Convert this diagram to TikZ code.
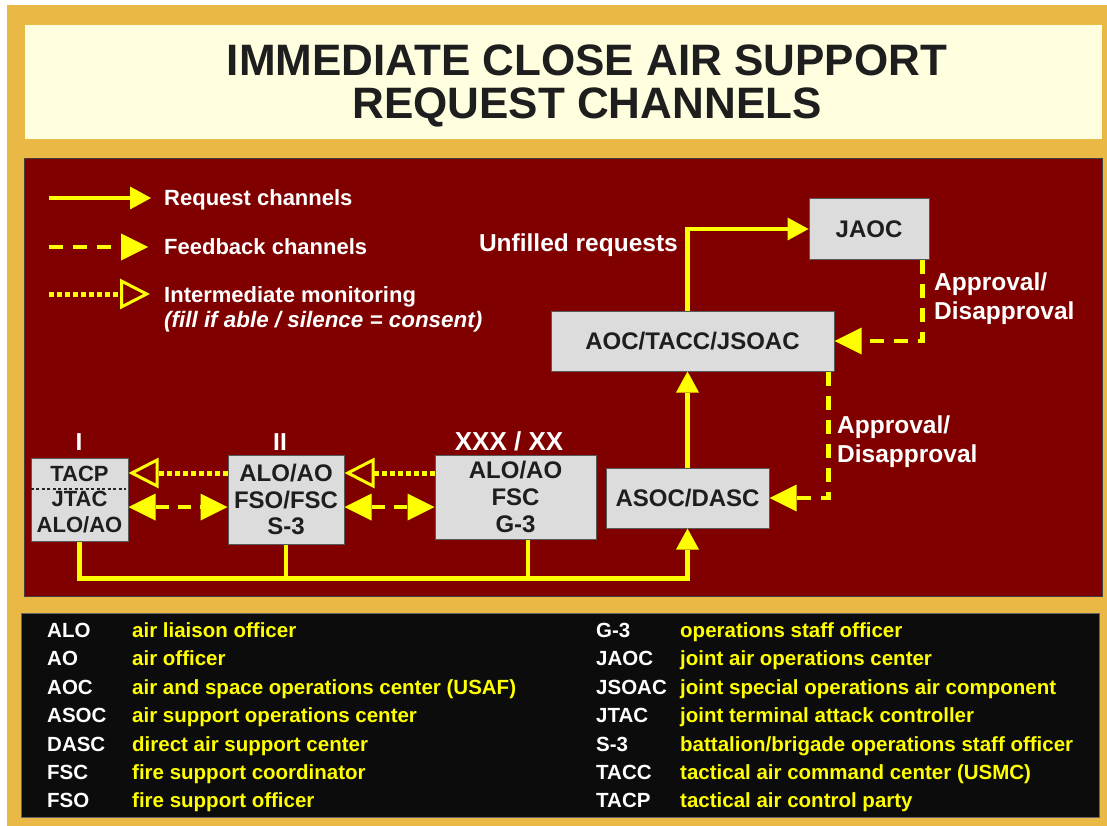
\documentclass[tikz,border=0pt]{standalone}
\usepackage{fontspec}
\setmainfont{Liberation Sans}
\usetikzlibrary{arrows.meta}
\definecolor{gold}{HTML}{EAB845}
\definecolor{cream}{HTML}{FFFFE0}
\definecolor{panelred}{HTML}{800000}
\definecolor{boxgray}{HTML}{DCDCDC}
\definecolor{ylw}{HTML}{FFFF00}
\definecolor{ink}{HTML}{1E1E1E}
\definecolor{legblack}{HTML}{0C0C0C}
\begin{document}
\begin{tikzpicture}[x=1pt,y=-1pt,
  orgbox/.style={draw=black!65,line width=1pt,fill=boxgray,text=ink,
    font=\fontsize{24}{26.6}\selectfont\bfseries,align=center,inner sep=0pt},
  req/.style={draw=ylw,line width=4.5pt,-{Triangle[length=21pt,width=23pt,line width=0pt]}},
  reqline/.style={draw=ylw,line width=4.5pt,shorten >=-2.25pt},
  fbarrow/.style={draw=ylw,line width=4.5pt,dash pattern=on 14pt off 10pt,
    -{Triangle[length=27pt,width=27pt,line width=0pt]}},
  fbboth/.style={draw=ylw,line width=4.5pt,dash pattern=on 13pt off 9pt,
    {Triangle[length=27pt,width=27pt,line width=0pt]}-{Triangle[length=27pt,width=27pt,line width=0pt]}},
  monarrow/.style={draw=ylw,line width=5pt,dash pattern=on 5pt off 3pt,
    -{Triangle[open,length=30pt,width=30pt,line width=3pt]}},
  titletext/.style={text=ink,font=\fontsize{44}{44}\selectfont\bfseries,inner sep=0pt},
  legtext/.style={text=white,font=\fontsize{22}{24}\selectfont\bfseries,inner sep=0pt},
  lbl/.style={text=white,font=\fontsize{24.5}{28.5}\selectfont\bfseries,inner sep=0pt},
  abbr/.style={text=white,font=\fontsize{20.5}{22}\selectfont\bfseries,inner sep=0pt,anchor=base west},
  defn/.style={text=ylw,font=\fontsize{20.5}{22}\selectfont\bfseries,inner sep=0pt,anchor=base west}
]
\useasboundingbox (0,0) rectangle (1107,826);
% backgrounds
\fill[white] (0,0) rectangle (1107,826);
\fill[gold] (7,5) rectangle (1107,826);
\fill[cream] (25,25) rectangle (1102,139);
\filldraw[fill=panelred,draw=black!75,line width=1pt] (24,159) rectangle (1102,596);
\filldraw[fill=legblack,draw=black!60,line width=1pt] (21,613) rectangle (1099,817);

% title
\node[titletext,anchor=base] (t1) at (587,76) {IMMEDIATE CLOSE AIR SUPPORT};
\node[titletext,anchor=base] (t2) at (587,119) {REQUEST CHANNELS};

% legend in panel
\coordinate (l1a) at (49,198); \coordinate (l1b) at (151,198);
\coordinate (l2a) at (49,247); \coordinate (l2b) at (148,247);
\coordinate (l3a) at (49,294); \coordinate (l3b) at (150,294);
\draw[req] (l1a) -- (l1b);
\draw[fbarrow] (l2a) -- (l2b);
\draw[monarrow] (l3a) -- (l3b);
\node[legtext,anchor=base west] (lt1) at (164,206) {Request channels};
\node[legtext,anchor=base west] (lt2) at (164,254.5) {Feedback channels};
\node[legtext,anchor=base west] (lt3) at (164,302.5) {Intermediate monitoring};
\node[legtext,anchor=base west,font=\fontsize{22.4}{24}\selectfont\bfseries\itshape] (lt4) at (164,327) {(fill if able / silence = consent)};

% boxes
\node[orgbox,minimum width=97pt,minimum height=83pt,font=\fontsize{22}{25.5}\selectfont\bfseries] (b1) at (79.5,499.5) {TACP\\JTAC\\ALO/AO};
\node[orgbox,minimum width=116pt,minimum height=89pt] (b2) at (286,499.5) {ALO/AO\\FSO/FSC\\S-3};
\node[orgbox,minimum width=161pt,minimum height=84pt] (b3) at (515.5,497) {ALO/AO\\FSC\\G-3};
\node[orgbox,minimum width=163pt,minimum height=60pt] (asoc) at (687.5,498) {ASOC/DASC};
\node[orgbox,minimum width=283pt,minimum height=60pt] (aoc) at (692.5,341) {AOC/TACC/JSOAC};
\node[orgbox,minimum width=120pt,minimum height=60pt] (jaoc) at (869,229) {JAOC};

% dotted divider in box I
\coordinate (divY) at (0,489);
\draw[black!85,line width=2.5pt,dash pattern=on 3pt off 2.5pt] (b1.west |- divY) -- ([xshift=-3pt]b1.east |- divY);

% level labels
\node[lbl,anchor=base] (lvI) at (79,450.5) {I};
\node[lbl,anchor=base] (lvII) at (280,450.5) {II};
\node[lbl,anchor=base,font=\fontsize{26}{28}\selectfont\bfseries] (lvX) at (509,450) {XXX / XX};

% connectors
\coordinate (monY) at (0,473);
\coordinate (fbY) at (0,507);
\coordinate (busY) at (0,578.5);
\draw[monarrow] (b2.west |- monY) -- (b1.east |- monY);
\draw[monarrow] (b3.west |- monY) -- (b2.east |- monY);
\draw[fbboth] (b1.east |- fbY) -- (b2.west |- fbY);
\draw[fbboth] (b2.east |- fbY) -- (b3.west |- fbY);
\draw[req] (b1.south) -- (b1.south |- busY) -| (asoc.south);
\draw[reqline] (b2.south) -- (b2.south |- busY);
\draw[reqline] ([xshift=12.5pt]b3.south) -- ([xshift=12.5pt]b3.south |- busY);
\draw[req] (asoc.north) -- (asoc.north |- aoc.south);
\draw[req] (asoc.north |- aoc.north) |- (jaoc.west);
\draw[fbarrow] ([xshift=-7pt]jaoc.south east) |- (aoc.east);
\draw[fbarrow] ([xshift=-6pt]aoc.south east) |- (asoc.east);

% connector labels
\node[lbl,anchor=base east] (unf) at (678,251.5) {Unfilled requests};
\node[lbl,anchor=north west,align=left] (ap1) at (934,273) {Approval/\\Disapproval};
\node[lbl,anchor=north west,align=left] (ap2) at (837,416) {Approval/\\Disapproval};

% bottom legend
\foreach \i/\a/\d in {0/ALO/air liaison officer,1/AO/air officer,2/AOC/air and space operations center (USAF),3/ASOC/air support operations center,4/DASC/direct air support center,5/FSC/fire support coordinator,6/FSO/fire support officer}{
  \node[abbr] (la\i) at (47,{637.5+28.4*\i}) {\a};
  \node[defn] (ld\i) at (132,{637.5+28.4*\i}) {\d};
}
\foreach \i/\a/\d in {0/G-3/operations staff officer,1/JAOC/joint air operations center,2/JSOAC/joint special operations air component,3/JTAC/joint terminal attack controller,4/S-3/battalion\slash brigade operations staff officer,5/TACC/tactical air command center (USMC),6/TACP/tactical air control party}{
  \node[abbr] (ra\i) at (596,{637.5+28.4*\i}) {\a};
  \node[defn] (rd\i) at (680,{637.5+28.4*\i}) {\d};
}
\end{tikzpicture}
\end{document}
